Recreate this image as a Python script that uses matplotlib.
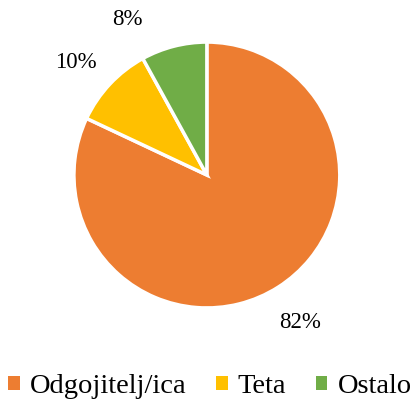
import matplotlib.pyplot as plt
from matplotlib.patches import Patch

# podaci
categories = ["Odgojitelj/ica", "Teta", "Ostalo"]
values = [82, 10, 8]
colors = ["#ED7D31", "#FFC000", "#70AD47"]

plt.rcParams['font.family'] = ['Liberation Serif', 'DejaVu Serif']

fig = plt.figure(figsize=(4.2, 4.0), dpi=100)
ax = fig.add_axes([0.176, 0.23, 0.633, 0.665])

wedges, texts, autotexts = ax.pie(values, colors=colors, startangle=90, counterclock=False,
                                  autopct='%1.0f%%', pctdistance=1.31,
                                  wedgeprops=dict(edgecolor='white', linewidth=2.5),
                                  textprops=dict(fontsize=16.5, color='black'))
# Excel pomakne male oznake malo drugačije
x, y = autotexts[1].get_position()
autotexts[1].set_position((x - 0.03, y - 0.05))
x, y = autotexts[2].get_position()
autotexts[2].set_position((x - 0.27, y - 0.1))

ax.set_xlim(-1, 1)
ax.set_ylim(-1, 1)
ax.set_aspect('equal')

handles = [Patch(facecolor=c, edgecolor='none') for c in colors]
fig.legend(handles, categories, loc='center', bbox_to_anchor=(0.5, 0.033), ncol=3,
           frameon=False, fontsize=20.5, handlelength=0.4, handleheight=0.4,
           handletextpad=0.35, columnspacing=1.05)

plt.savefig("out.png", dpi=100)
